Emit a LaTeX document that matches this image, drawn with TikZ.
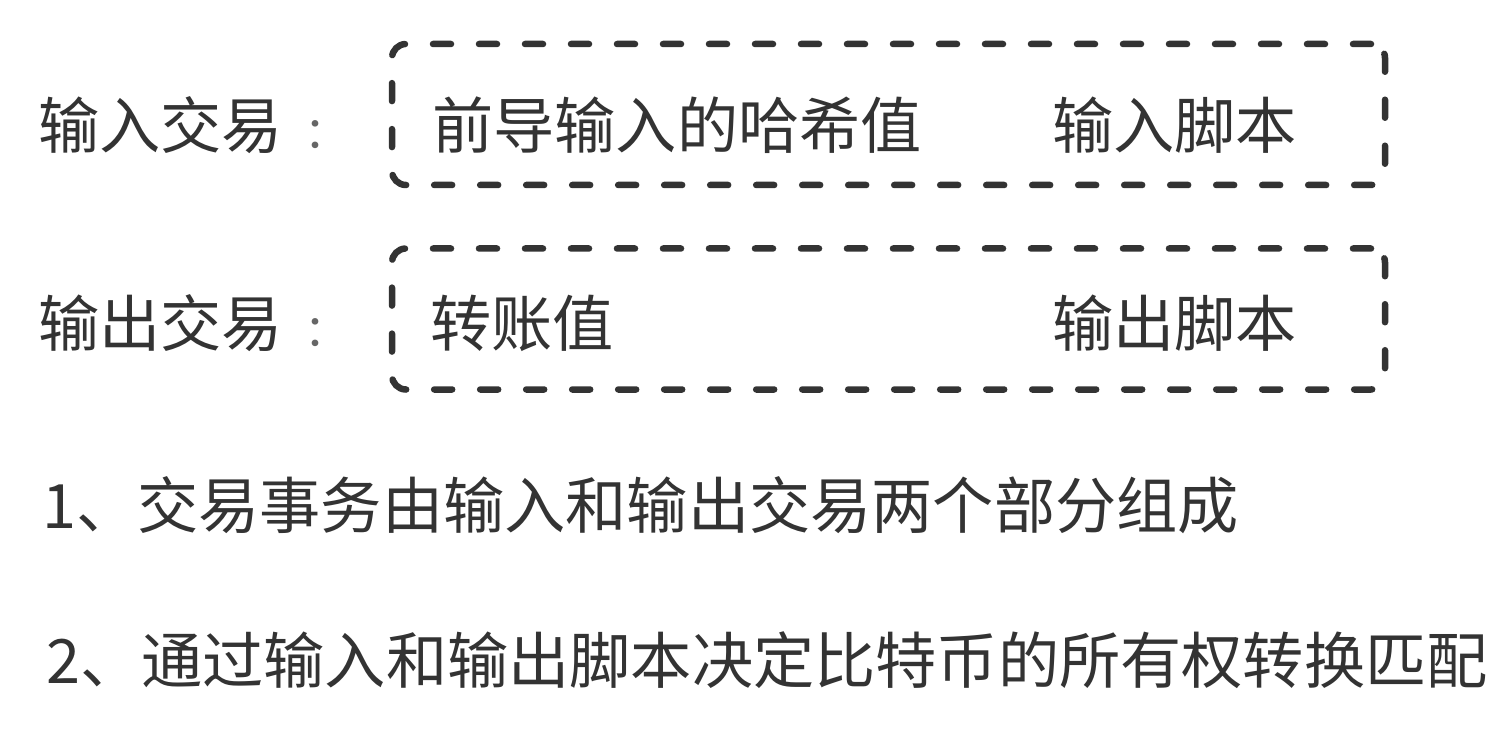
\documentclass[tikz,border=0pt]{standalone}
\usepackage{fontspec}
\setmainfont{Noto Sans CJK SC}
\definecolor{ink}{HTML}{333333}
\tikzset{
  dbox/.style={draw=ink, line width=6.5pt, dash pattern=on 18pt off 28pt, line cap=round, rounded corners=14pt, minimum width=993pt, minimum height=141pt, inner sep=0pt},
  txt/.style={anchor=west, inner sep=0pt, text=ink, font=\fontsize{61.2}{72}\selectfont}
}
\newcommand{\cjkcolon}{\kern22pt{\color{ink!75}\fontsize{44}{60}\selectfont ：}}
\begin{document}
\begin{tikzpicture}[x=1pt,y=-1pt]
\useasboundingbox[fill=white] (0,0) rectangle (1508,730);
\node[dbox] (b1) at (888.5,114.5) {};
\node[dbox] (b2) at (888.5,319) {};
\node[txt] (l1) at (38,125) {输入交易\cjkcolon};
\node[txt] (l2) at (38,323) {输出交易\cjkcolon};
\node[txt] (t1) at (432,125) {前导输入的哈希值};
\node[txt] (t2) at (1052,125) {输入脚本};
\node[txt] (t3) at (430,323) {转账值};
\node[txt] (t4) at (1052,323) {输出脚本};
\node[txt] (n1) at (42,505) {1、交易事务由输入和输出交易两个部分组成};
\node[txt] (n2) at (46,660) {2、通过输入和输出脚本决定比特币的所有权转换匹配};
\end{tikzpicture}
\end{document}
